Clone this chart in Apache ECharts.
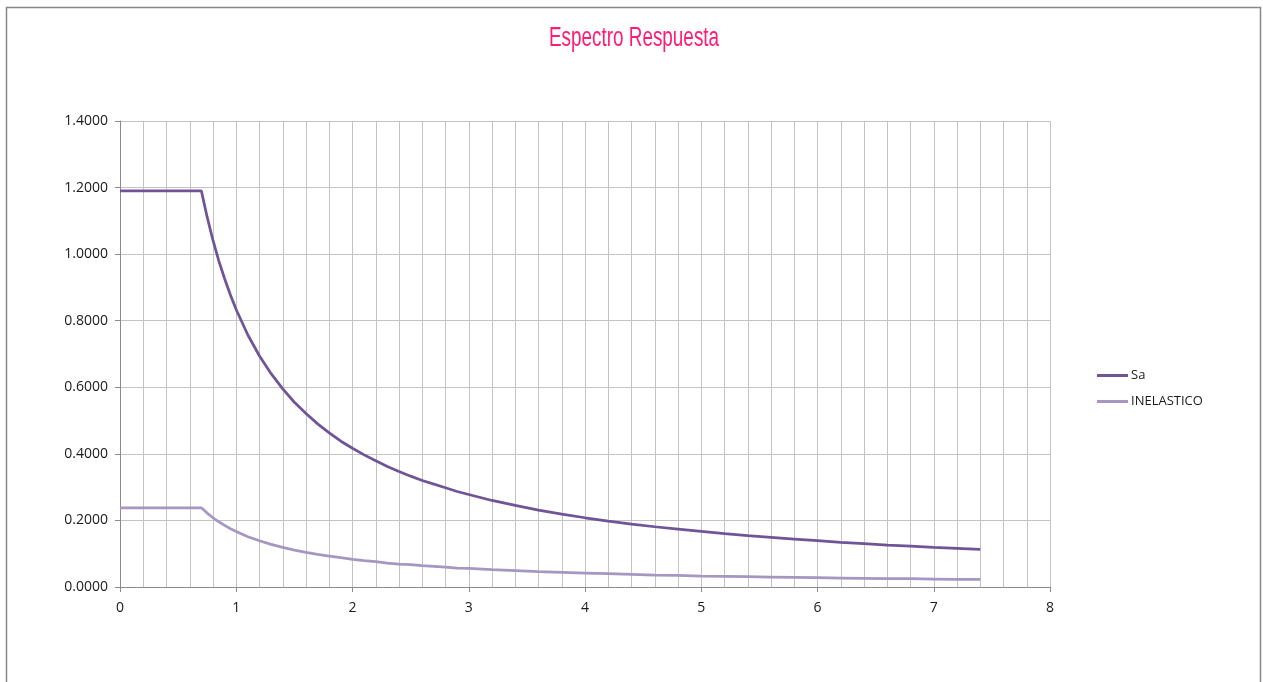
<!DOCTYPE html>
<html>
<head>
<meta charset="utf-8">
<script src="https://cdn.jsdelivr.net/npm/echarts@6/dist/echarts.min.js"></script>
<style>
  html, body { margin: 0; padding: 0; background: #ffffff; }
  #chart { width: 1263px; height: 682px; }
</style>
</head>
<body>
<div id="chart"></div>
<script>
// Periods T (s)
const periods = [0, 0.7, 0.75, 0.8, 0.85, 0.9, 0.95, 1.0,
  1.1, 1.2, 1.3, 1.4, 1.5, 1.6, 1.7, 1.8, 1.9, 2.0, 2.1, 2.2, 2.3, 2.4, 2.5, 2.6, 2.7, 2.8, 2.9, 3.0,
  3.2, 3.4, 3.6, 3.8, 4.0, 4.2, 4.4, 4.6, 4.8, 5.0, 5.2, 5.4, 5.6, 5.8, 6.0, 6.2, 6.4, 6.6, 6.8, 7.0, 7.2, 7.4];
// Elastic spectral acceleration Sa
const saValues = [1.19, 1.19, 1.111, 1.041, 0.980, 0.926, 0.877, 0.833,
  0.757, 0.694, 0.641, 0.595, 0.555, 0.521, 0.490, 0.463, 0.438, 0.417, 0.397, 0.379, 0.362, 0.347, 0.333,
  0.320, 0.309, 0.298, 0.287, 0.278,
  0.260, 0.245, 0.231, 0.219, 0.208, 0.198, 0.189, 0.181, 0.174, 0.167, 0.160, 0.154, 0.149, 0.144,
  0.139, 0.134, 0.130, 0.126, 0.123, 0.119, 0.116, 0.113];
// Inelastic spectrum
const inelasticValues = [0.238, 0.238, 0.222, 0.208, 0.196, 0.185, 0.175, 0.167,
  0.151, 0.139, 0.128, 0.119, 0.111, 0.104, 0.098, 0.093, 0.088, 0.083, 0.079, 0.076, 0.072, 0.069, 0.067,
  0.064, 0.062, 0.060, 0.057, 0.056,
  0.052, 0.049, 0.046, 0.044, 0.042, 0.040, 0.038, 0.036, 0.035, 0.033, 0.032, 0.031, 0.030, 0.029,
  0.028, 0.027, 0.026, 0.025, 0.025, 0.024, 0.023, 0.023];
const seriesNames = ['Sa', 'INELASTICO'];
const titleText = 'Espectro Respuesta';

const pairs = (ys) => periods.map((t, i) => [t, ys[i]]);

const gridColor = '#c3c3c3';
const axisColor = '#8a8a8a';
const labelFont = { color: '#1a1a1a', fontSize: 14, fontFamily: 'Open Sans, Liberation Sans, sans-serif' };
const saColor = '#6f5597';
const inelasticColor = '#a597c2';

const chart = echarts.init(document.getElementById('chart'), null, { renderer: 'canvas' });
chart.setOption({
  backgroundColor: '#ffffff',
  animation: false,
  legend: {
    orient: 'vertical',
    left: 1097,
    top: 369,
    padding: 0,
    icon: 'rect',
    itemWidth: 31,
    itemHeight: 3,
    itemGap: 13,
    textStyle: { color: '#1a1a1a', fontSize: 13, fontFamily: 'Open Sans, Liberation Sans, sans-serif', padding: [0, 0, 0, -2] },
    data: seriesNames
  },
  graphic: [
    {
      type: 'rect',
      shape: { x: 6.5, y: 7.5, width: 1254, height: 700 },
      style: { fill: 'none', stroke: '#888888', lineWidth: 1.5 },
      silent: true
    },
    {
      // condensed title text
      type: 'text',
      x: 634,
      y: 39,
      scaleX: 0.7,
      style: {
        text: titleText,
        fill: '#ff1c76',
        font: 'normal 27px "Liberation Sans", sans-serif',
        textAlign: 'center',
        textVerticalAlign: 'middle'
      },
      silent: true
    }
  ],
  grid: { left: 120, right: 213, top: 121, bottom: 95, containLabel: false },
  xAxis: {
    type: 'value',
    min: 0,
    max: 8,
    interval: 1,
    axisLine: { show: true, onZero: false, lineStyle: { color: axisColor, width: 1 } },
    axisTick: { show: true, inside: false, length: 5, lineStyle: { color: axisColor } },
    minorTick: { show: false, splitNumber: 5 },
    splitLine: { show: true, lineStyle: { color: gridColor, width: 1 } },
    minorSplitLine: { show: true, lineStyle: { color: gridColor, width: 1 } },
    axisLabel: Object.assign({ margin: 14 }, labelFont)
  },
  yAxis: {
    type: 'value',
    min: 0,
    max: 1.4,
    interval: 0.2,
    axisLine: { show: true, lineStyle: { color: axisColor, width: 1 } },
    axisTick: { show: true, inside: false, length: 5, lineStyle: { color: axisColor } },
    splitLine: { show: true, lineStyle: { color: gridColor, width: 1 } },
    axisLabel: Object.assign({ margin: 12, formatter: (v) => v.toFixed(4) }, labelFont)
  },
  series: [
    {
      name: seriesNames[0],
      type: 'line',
      data: pairs(saValues),
      symbol: 'none',
      lineStyle: { color: saColor, width: 2.75 },
      itemStyle: { color: saColor }
    },
    {
      name: seriesNames[1],
      type: 'line',
      data: pairs(inelasticValues),
      symbol: 'none',
      lineStyle: { color: inelasticColor, width: 2.75 },
      itemStyle: { color: inelasticColor }
    }
  ]
});
</script>
</body>
</html>
